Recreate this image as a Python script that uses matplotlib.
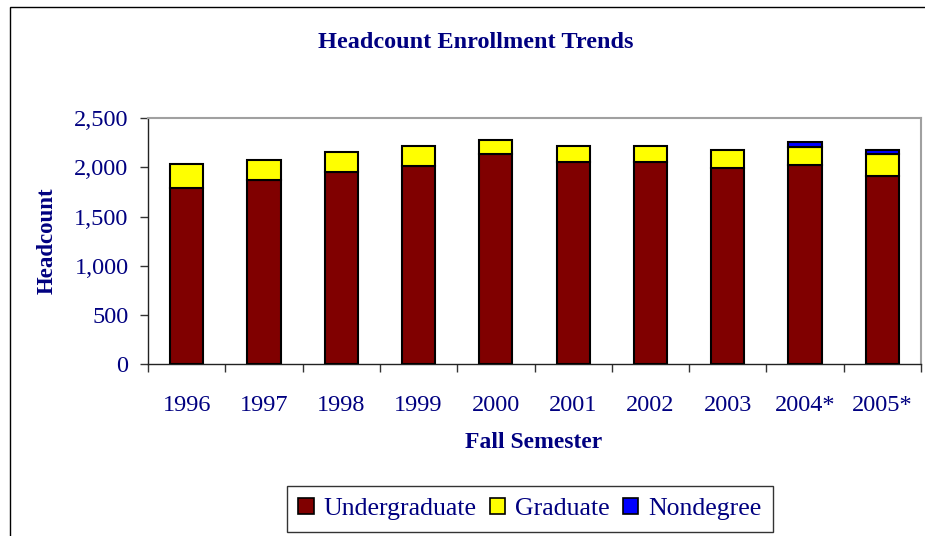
import matplotlib
matplotlib.use("Agg")
import matplotlib.pyplot as plt
from matplotlib.patches import Patch, Rectangle
from matplotlib.ticker import FuncFormatter, FixedLocator
import numpy as np

years = ["1996", "1997", "1998", "1999", "2000", "2001", "2002", "2003", "2004*", "2005*"]
undergraduate = [1790, 1870, 1950, 2013, 2135, 2053, 2053, 1992, 2029, 1911]
graduate = [250, 207, 205, 210, 145, 170, 170, 186, 183, 224]
nondegree = [0, 0, 0, 0, 0, 0, 0, 0, 48, 43]
series_names = ["Undergraduate", "Graduate", "Nondegree"]
colors = ["#800000", "#FFFF00", "#0000FF"]
navy = "#000080"
serif = ["Liberation Serif", "DejaVu Serif"]

W, H = 925, 536
fig = plt.figure(figsize=(W / 100, H / 100), dpi=100)

# outer chart border
fig.add_artist(Rectangle((10 / W, -0.05), 1.2, (536 - 7) / H + 0.05,
                         transform=fig.transFigure, fill=False,
                         edgecolor="black", linewidth=1.0))

ax = fig.add_axes([148 / W, (536 - 364) / H, (921 - 148) / W, (364 - 118.3) / H])

x = np.arange(len(years))
bw = 0.43
u = np.array(undergraduate)
g = np.array(graduate)
n = np.array(nondegree)
lw = 1.5
ax.bar(x, u, bw, color=colors[0], edgecolor="black", linewidth=lw, zorder=3)
ax.bar(x, g, bw, bottom=u, color=colors[1], edgecolor="black", linewidth=lw, zorder=3)
mask = n > 0
ax.bar(x[mask], n[mask], bw, bottom=(u + g)[mask], color=colors[2],
       edgecolor="black", linewidth=lw, zorder=3)

ax.set_xlim(-0.5, len(years) - 0.5)
ax.set_ylim(0, 2500)
ax.set_yticks([0, 500, 1000, 1500, 2000, 2500])
ax.yaxis.set_major_formatter(FuncFormatter(lambda v, p: f"{int(v):,}"))

ax.set_xticks(x)
ax.set_xticklabels(years)
ax.xaxis.set_minor_locator(FixedLocator(np.arange(-0.5, len(years), 1.0)))
ax.tick_params(axis="x", which="major", length=0, pad=22)
ax.tick_params(axis="x", which="minor", length=6, width=1, color="#333333", direction="out")
ax.tick_params(axis="y", which="major", length=6, width=1, color="#333333", direction="out", pad=8)

for lab in ax.get_xticklabels() + ax.get_yticklabels():
    lab.set_fontfamily(serif)
    lab.set_fontsize(17.5)
    lab.set_color(navy)

for s in ["left", "bottom"]:
    ax.spines[s].set_color("#222222")
    ax.spines[s].set_linewidth(1.0)
for s in ["top", "right"]:
    ax.spines[s].set_color("#a0a0a0")
    ax.spines[s].set_linewidth(1.5)

fig.text(476 / W, 1 - 42 / H, "Headcount Enrollment Trends", ha="center", va="center",
         fontfamily=serif, fontweight="bold", fontsize=17.5, color=navy)
fig.text(47 / W, 1 - 241 / H, "Headcount", ha="center", va="center", rotation=90,
         fontfamily=serif, fontweight="bold", fontsize=16.5, color=navy)
fig.text(534 / W, 1 - 442 / H, "Fall Semester", ha="center", va="center",
         fontfamily=serif, fontweight="bold", fontsize=17, color=navy)

handles = [Patch(facecolor=c, edgecolor="black", linewidth=1.2) for c in colors]
leg = fig.legend(handles, series_names, loc="center", bbox_to_anchor=(530 / W, 1 - 509 / H),
                 ncol=3, frameon=True, fancybox=False, handlelength=0.6, handleheight=0.6,
                 handletextpad=0.4, columnspacing=0.5, borderpad=0.45,
                 prop={"family": serif, "size": 18.5})
leg.get_frame().set_edgecolor("black")
leg.get_frame().set_linewidth(1.0)
for t in leg.get_texts():
    t.set_color(navy)

fig.savefig("out.png", dpi=100)
